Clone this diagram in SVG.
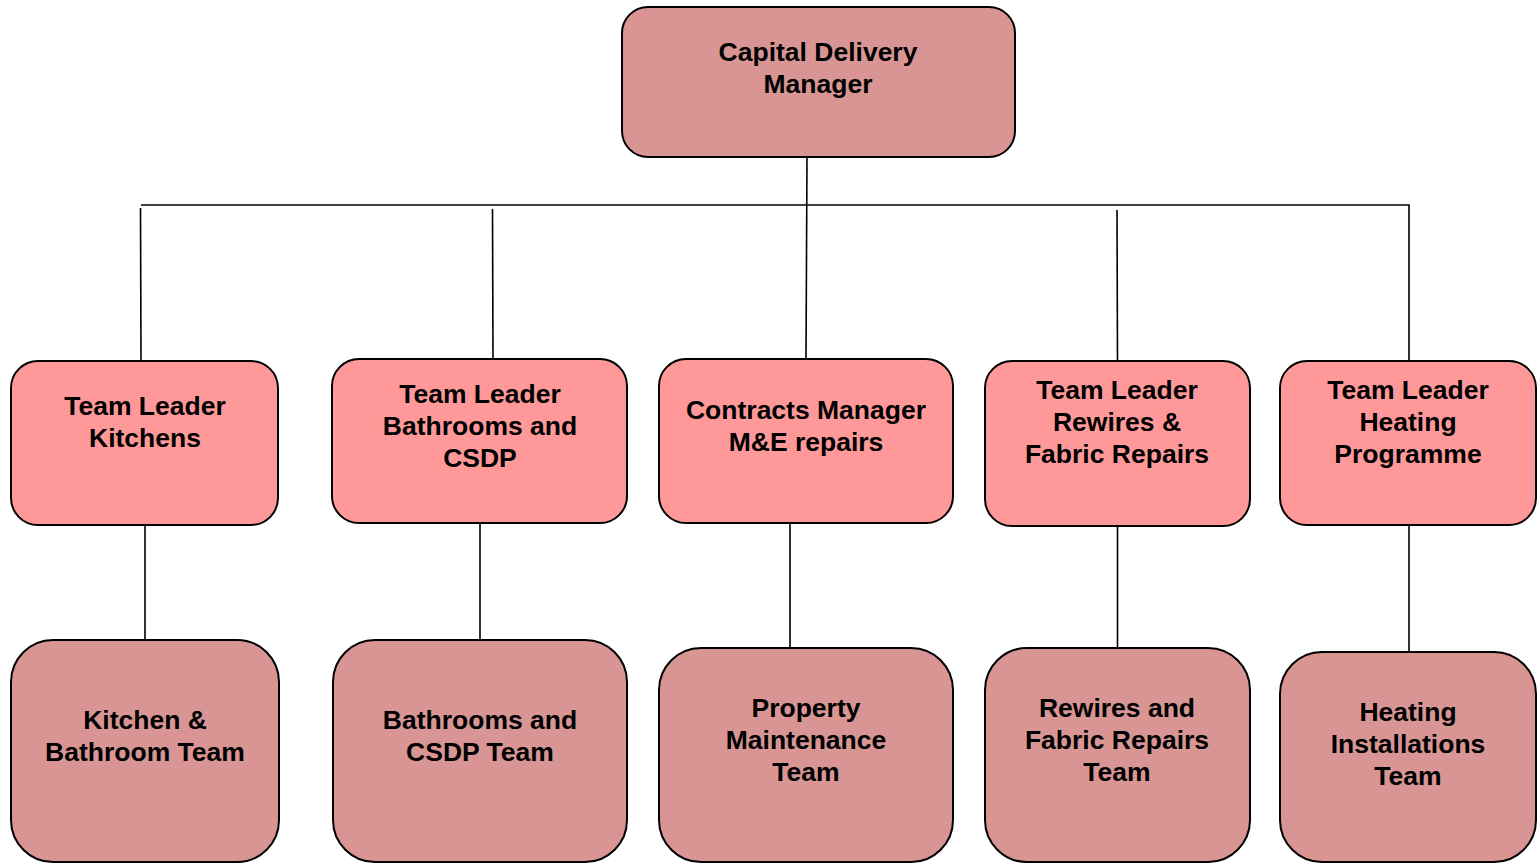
<svg xmlns="http://www.w3.org/2000/svg" width="1537" height="863" viewBox="0 0 1537 863">
<style>
.top{fill:#d99594;stroke:#000;stroke-width:2}
.mid{fill:#ff9999;stroke:#000;stroke-width:2}
.bot{fill:#d99594;stroke:#000;stroke-width:2}
.lbl{font-family:"Liberation Sans",Arial,sans-serif;font-weight:bold;font-size:26.5px;fill:#000;text-anchor:middle}
.conn{stroke:#000;stroke-width:1.6;fill:none}
</style>
<rect width="1537" height="863" fill="#fff"/>
<g id="connectors">
<line class="conn" x1="807" y1="157" x2="806" y2="359"/>
<polyline class="conn" points="141,205 1409,205 1409,361"/>
<line class="conn" x1="140.5" y1="208" x2="141" y2="361"/>
<line class="conn" x1="492.5" y1="209" x2="493" y2="359"/>
<line class="conn" x1="1117" y1="210" x2="1117.5" y2="361"/>
<line class="conn" x1="145" y1="525" x2="145" y2="640"/>
<line class="conn" x1="480" y1="523" x2="480" y2="640"/>
<line class="conn" x1="790" y1="523" x2="790" y2="648"/>
<line class="conn" x1="1117.5" y1="526" x2="1117.5" y2="648"/>
<line class="conn" x1="1409" y1="525" x2="1409" y2="652"/>
</g>
<g id="capital-delivery-manager">
<rect class="top" x="622" y="7" width="393" height="150" rx="26"/>
<text class="lbl" x="818" y="61">Capital Delivery</text>
<text class="lbl" x="818" y="93">Manager</text>
</g>
<g id="tl-kitchens">
<rect class="mid" x="11" y="361" width="267" height="164" rx="27"/>
<text class="lbl" x="145" y="415">Team Leader</text>
<text class="lbl" x="145" y="447">Kitchens</text>
</g>
<g id="tl-bathrooms">
<rect class="mid" x="332" y="359" width="295" height="164" rx="27"/>
<text class="lbl" x="480" y="403">Team Leader</text>
<text class="lbl" x="480" y="435">Bathrooms and</text>
<text class="lbl" x="480" y="467">CSDP</text>
</g>
<g id="contracts-manager">
<rect class="mid" x="659" y="359" width="294" height="164" rx="27"/>
<text class="lbl" x="806" y="419">Contracts Manager</text>
<text class="lbl" x="806" y="451">M&amp;E repairs</text>
</g>
<g id="tl-rewires">
<rect class="mid" x="985" y="361" width="265" height="165" rx="27"/>
<text class="lbl" x="1117" y="399">Team Leader</text>
<text class="lbl" x="1117" y="431">Rewires &amp;</text>
<text class="lbl" x="1117" y="463">Fabric Repairs</text>
</g>
<g id="tl-heating">
<rect class="mid" x="1280" y="361" width="256" height="164" rx="27"/>
<text class="lbl" x="1408" y="399">Team Leader</text>
<text class="lbl" x="1408" y="431">Heating</text>
<text class="lbl" x="1408" y="463">Programme</text>
</g>
<g id="kitchen-bathroom-team">
<rect class="bot" x="11" y="640" width="268" height="222" rx="42"/>
<text class="lbl" x="145" y="729">Kitchen &amp;</text>
<text class="lbl" x="145" y="761">Bathroom Team</text>
</g>
<g id="bathrooms-csdp-team">
<rect class="bot" x="333" y="640" width="294" height="222" rx="42"/>
<text class="lbl" x="480" y="729">Bathrooms and</text>
<text class="lbl" x="480" y="761">CSDP Team</text>
</g>
<g id="property-maintenance-team">
<rect class="bot" x="659" y="648" width="294" height="214" rx="42"/>
<text class="lbl" x="806" y="717">Property</text>
<text class="lbl" x="806" y="749">Maintenance</text>
<text class="lbl" x="806" y="781">Team</text>
</g>
<g id="rewires-fabric-team">
<rect class="bot" x="985" y="648" width="265" height="214" rx="42"/>
<text class="lbl" x="1117" y="717">Rewires and</text>
<text class="lbl" x="1117" y="749">Fabric Repairs</text>
<text class="lbl" x="1117" y="781">Team</text>
</g>
<g id="heating-installations-team">
<rect class="bot" x="1280" y="652" width="256" height="210" rx="42"/>
<text class="lbl" x="1408" y="721">Heating</text>
<text class="lbl" x="1408" y="753">Installations</text>
<text class="lbl" x="1408" y="785">Team</text>
</g>
</svg>
